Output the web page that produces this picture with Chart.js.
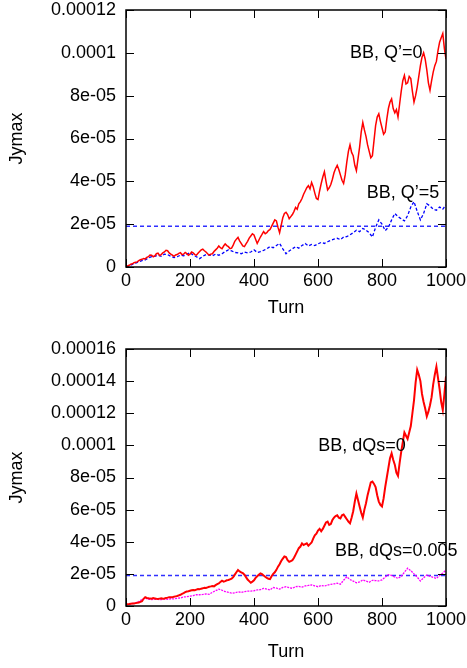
<!DOCTYPE html>
<html>
<head>
<meta charset="utf-8">
<script src="https://cdn.jsdelivr.net/npm/chart.js@4.4.1/dist/chart.umd.min.js"></script>
<style>
  html, body { margin: 0; padding: 0; background: #fff; }
  #wrap { position: relative; width: 467px; height: 668px; }
  canvas { position: absolute; left: 0; }
</style>
</head>
<body>
<div id="wrap">
  <canvas id="topChart" width="467" height="330" style="top:0"></canvas>
  <canvas id="bottomChart" width="467" height="338" style="top:330px"></canvas>
</div>
<script>
// values in units of 1e-5
// red curves sampled every 5 turns, the others every 10 turns
const q0 = [0.00,0.05,0.08,0.13,0.15,0.20,0.22,0.24,0.30,0.34,
  0.36,0.40,0.38,0.45,0.48,0.56,0.55,0.48,0.52,0.62,
  0.65,0.54,0.58,0.66,0.70,0.78,0.76,0.66,0.60,0.55,
  0.50,0.56,0.58,0.64,0.67,0.58,0.60,0.68,0.63,0.55,
  0.60,0.70,0.66,0.58,0.55,0.64,0.72,0.80,0.83,0.76,
  0.70,0.62,0.56,0.60,0.62,0.72,0.80,0.88,0.98,0.90,
  0.85,0.98,1.08,1.00,0.95,0.86,0.88,1.02,1.20,1.30,
  1.38,1.22,1.10,0.98,0.95,1.08,1.20,1.35,1.45,1.55,
  1.50,1.30,1.10,1.25,1.40,1.52,1.65,1.55,1.60,1.70,
  1.75,1.90,2.05,2.20,2.15,1.85,1.60,1.95,2.30,2.50,
  2.55,2.45,2.25,2.35,2.45,2.60,2.78,2.70,2.95,3.05,
  3.20,3.40,3.55,3.70,3.80,3.65,3.95,3.75,3.45,3.20,
  3.15,3.55,3.90,4.20,4.45,4.00,3.60,3.70,3.85,4.10,
  4.40,4.60,4.75,4.55,4.30,4.05,3.90,4.30,4.90,5.40,
  5.70,5.35,5.20,4.75,4.50,5.05,5.60,6.30,6.75,6.40,
  6.10,5.70,5.40,5.10,5.20,5.90,6.60,7.00,7.15,6.80,
  6.50,6.20,6.30,6.90,7.40,7.70,7.85,7.40,7.20,7.35,
  7.00,7.60,8.20,8.70,8.95,8.55,8.60,8.90,8.80,8.20,
  7.70,8.00,8.40,8.90,9.40,9.80,10.00,9.70,9.20,8.60,
  8.25,8.70,9.10,9.40,9.60,10.10,10.50,10.70,10.90,10.20,
  9.70];
const q5 = [0.00,0.06,0.12,0.18,0.24,0.30,0.33,0.42,0.48,0.50,
  0.55,0.50,0.60,0.58,0.50,0.44,0.48,0.55,0.52,0.60,
  0.67,0.55,0.48,0.39,0.50,0.58,0.56,0.52,0.60,0.55,
  0.62,0.72,0.80,0.75,0.68,0.66,0.62,0.70,0.66,0.70,
  0.80,0.68,0.72,0.78,0.85,0.95,0.90,1.00,1.10,0.85,
  0.62,0.75,0.85,0.95,0.88,1.00,1.10,0.98,1.05,1.00,
  1.08,1.15,1.10,1.18,1.25,1.30,1.34,1.28,1.40,1.42,
  1.50,1.60,1.72,1.65,1.80,1.72,1.60,1.40,1.85,2.20,
  2.00,1.70,1.85,2.20,2.50,2.35,2.25,2.15,2.40,2.80,
  3.05,2.60,2.20,2.50,2.95,2.85,2.70,2.65,2.80,2.70,
  2.90];
const dqs0 = [0.10,0.11,0.12,0.14,0.15,0.16,0.18,0.20,0.22,0.26,
  0.30,0.45,0.55,0.50,0.48,0.46,0.45,0.49,0.47,0.45,
  0.44,0.46,0.48,0.45,0.47,0.50,0.52,0.55,0.55,0.54,
  0.58,0.60,0.62,0.66,0.70,0.76,0.80,0.86,0.90,0.92,
  0.95,0.98,1.00,0.98,1.02,1.06,1.05,1.08,1.10,1.14,
  1.12,1.16,1.20,1.22,1.25,1.22,1.30,1.36,1.40,1.50,
  1.58,1.52,1.55,1.60,1.62,1.66,1.70,1.80,1.95,2.10,
  2.24,2.15,2.10,2.05,1.95,1.80,1.65,1.55,1.45,1.52,
  1.60,1.75,1.85,1.95,2.03,1.98,1.90,1.82,1.75,1.70,
  1.68,1.85,2.00,2.10,2.25,2.45,2.60,2.80,2.95,3.08,
  3.05,2.85,2.75,2.80,2.85,3.00,3.20,3.40,3.60,3.70,
  3.90,3.80,3.85,3.90,3.75,3.85,3.95,4.20,4.40,4.50,
  4.70,4.80,4.65,4.80,5.00,5.20,5.25,5.05,5.10,5.35,
  5.50,5.60,5.65,5.50,5.45,5.65,5.70,5.55,5.40,5.25,
  5.15,5.50,5.90,6.50,7.00,6.60,6.20,5.80,5.50,6.00,
  6.40,6.90,7.30,7.70,7.75,7.60,7.40,6.90,6.50,6.30,
  6.20,6.70,7.40,8.00,8.60,9.20,9.50,9.10,8.80,8.30,
  8.10,8.90,9.60,10.20,10.80,10.60,10.40,10.80,11.20,12.00,
  12.80,13.90,14.70,14.40,14.00,13.20,12.70,12.30,11.80,12.10,
  12.50,13.00,13.80,14.40,14.90,14.20,13.50,12.70,12.20,13.20,
  14.30];
const dqs005 = [0.05,0.10,0.15,0.20,0.28,0.40,0.50,0.42,0.40,0.42,
  0.41,0.40,0.44,0.42,0.45,0.44,0.48,0.50,0.56,0.58,
  0.62,0.65,0.70,0.70,0.72,0.75,0.73,0.85,0.95,1.05,
  0.98,0.90,0.85,0.80,0.82,0.88,0.85,0.90,0.92,0.93,
  0.95,1.00,1.02,1.10,1.05,1.00,1.15,1.12,1.05,1.16,
  1.20,1.15,1.10,1.20,1.22,1.18,1.25,1.28,1.32,1.25,
  1.20,1.28,1.24,1.30,1.35,1.38,1.42,1.36,1.60,1.82,
  1.65,1.55,1.45,1.50,1.62,1.55,1.48,1.60,1.58,1.56,
  1.62,1.80,1.95,1.90,1.80,1.72,1.85,2.10,2.35,2.20,
  2.00,1.80,1.56,1.75,1.93,1.85,1.78,1.72,1.90,2.05,
  2.24];
const refLevel = 1.9; // dashed threshold, 1e-5 units

const xTicks = [0, 200, 400, 600, 800, 1000];
const topMax = 12, bottomMax = 16, yStep = 2;

// turn of each sample = index * step
const toPoints = (vals, step) => vals.map((v, i) => ({ x: i * step, y: v * 1e-5 }));
const refPoints = () => [{ x: 0, y: refLevel * 1e-5 }, { x: 1000, y: refLevel * 1e-5 }];

const fontFamily = '"Liberation Sans", Arial, sans-serif';

const yFormat = (v) => {
  const k = Math.round(v * 1e5);
  if (k === 0) return '0';
  if (k < 10) return k + 'e-05';
  return String(k / 1e5);
};

// gnuplot style frame: box + inward ticks on all four sides + text labels
const framePlugin = {
  id: 'frame',
  afterDatasetsDraw(chart, args, opts) {
    const { ctx, chartArea: a, scales } = chart;
    ctx.save();
    ctx.strokeStyle = '#000';
    ctx.lineWidth = 1.5;
    ctx.strokeRect(a.left, a.top, a.right - a.left, a.bottom - a.top);
    const len = 8;
    ctx.beginPath();
    scales.x.ticks.forEach(t => {
      const px = Math.round(scales.x.getPixelForValue(t.value)) + 0.5;
      ctx.moveTo(px, a.bottom); ctx.lineTo(px, a.bottom - len);
      ctx.moveTo(px, a.top); ctx.lineTo(px, a.top + len);
    });
    scales.y.ticks.forEach(t => {
      const py = Math.round(scales.y.getPixelForValue(t.value)) + 0.5;
      ctx.moveTo(a.left, py); ctx.lineTo(a.left + len, py);
      ctx.moveTo(a.right, py); ctx.lineTo(a.right - len, py);
    });
    ctx.lineWidth = 1;
    ctx.stroke();
    ctx.fillStyle = '#000';
    ctx.font = '18px ' + fontFamily;
    ctx.textBaseline = 'middle';
    ctx.textAlign = 'left';
    (opts.labels || []).forEach(l => {
      ctx.fillText(l.text, scales.x.getPixelForValue(l.x), scales.y.getPixelForValue(l.y * 1e-5));
    });
    ctx.restore();
  }
};

function makeChart(id, datasets, yMax, labels, pad, xHeight, xTitlePad) {
  return new Chart(document.getElementById(id), {
    type: 'line',
    data: { datasets },
    options: {
      responsive: false,
      animation: false,
      events: [],
      layout: { padding: { top: pad, right: 21, left: 0, bottom: 0 } },
      elements: { point: { radius: 0 }, line: { tension: 0 } },
      plugins: {
        legend: { display: false },
        tooltip: { enabled: false },
        frame: { labels }
      },
      scales: {
        x: {
          type: 'linear', min: 0, max: 1000,
          afterBuildTicks: s => { s.ticks = xTicks.map(v => ({ value: v })); },
          afterFit: s => { s.height = xHeight; s.paddingLeft = 0; s.paddingRight = 0; },
          grid: { display: false, drawTicks: false },
          border: { display: false },
          ticks: { color: '#000', padding: 3, maxRotation: 0, callback: v => String(v), font: { family: fontFamily, size: 18 } },
          title: { display: true, text: 'Turn', color: '#000', padding: { bottom: xTitlePad }, font: { family: fontFamily, size: 18 } }
        },
        y: {
          min: 0, max: yMax * 1e-5,
          ticks: { stepSize: yStep * 1e-5, color: '#000', padding: 10, callback: yFormat, font: { family: fontFamily, size: 18 } },
          afterFit: s => { s.width = 126; s.paddingTop = 0; s.paddingBottom = 0; },
          grid: { display: false, drawTicks: false },
          border: { display: false },
          title: { display: true, text: 'Jymax', color: '#000', padding: { top: 6 }, font: { family: fontFamily, size: 18 } }
        }
      }
    },
    plugins: [framePlugin]
  });
}

makeChart('topChart', [
  { data: toPoints(q0, 5), borderColor: '#ff0000', borderWidth: 1.5 },
  { data: toPoints(q5, 10), borderColor: '#0000ff', borderWidth: 1.3, borderDash: [3, 2] },
  { data: refPoints(), borderColor: '#3030ff', borderWidth: 1.4, borderDash: [4, 3] }
], topMax, [
  { text: 'BB, Q\u2019=0', x: 700, y: 10.0 },
  { text: 'BB, Q\u2019=5', x: 752, y: 3.45 }
], 10, 63, 11);

makeChart('bottomChart', [
  { data: toPoints(dqs0, 5), borderColor: '#ff0000', borderWidth: 2 },
  { data: toPoints(dqs005, 10), borderColor: '#ff00ff', borderWidth: 1.3, borderDash: [2, 1] },
  { data: refPoints(), borderColor: '#3030ff', borderWidth: 1.4, borderDash: [4, 3] }
], bottomMax, [
  { text: 'BB, dQs=0', x: 601, y: 9.96 },
  { text: 'BB, dQs=0.005', x: 653, y: 3.42 }
], 19, 62, 5);
</script>
</body>
</html>
